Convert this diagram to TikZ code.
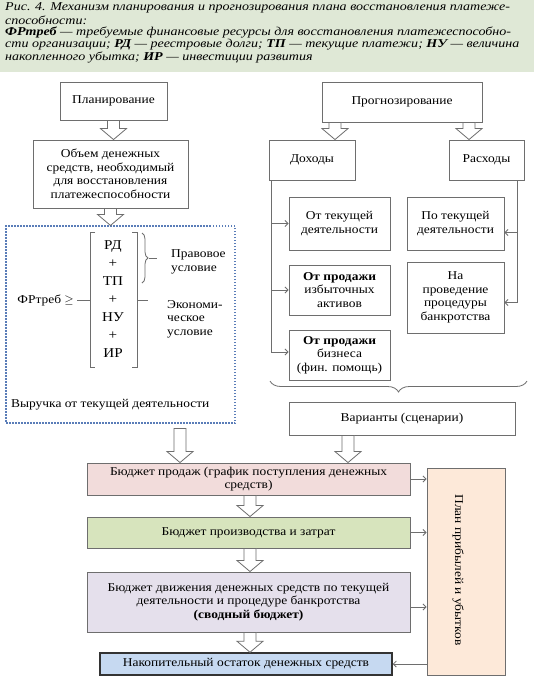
\documentclass[tikz,border=0pt]{standalone}
\usepackage{fontspec}
\setmainfont{Liberation Serif}[FakeStretch=1.12]
\newfontfamily\capfont{Liberation Serif}[FakeStretch=1.17]
\usetikzlibrary{arrows.meta,calc,decorations.pathreplacing}
\definecolor{capbg}{HTML}{DFE8D6}
\definecolor{boxc}{HTML}{6E6E6E}
\definecolor{dashc}{HTML}{5A7DB8}
\definecolor{pinkc}{HTML}{F2DCDB}
\definecolor{greenc}{HTML}{D7E4BD}
\definecolor{lavc}{HTML}{E5E0EC}
\definecolor{bluec}{HTML}{C6D9F1}
\definecolor{peachc}{HTML}{FDE9D9}
\newcommand\fsz[2]{\fontsize{#1pt}{#2pt}\selectfont}
\newcommand\harrow[2]{\draw[harrowstyle] let \p1=#1, \p2=#2 in
  (\x1-6pt,\y1) -- (\x1-6pt,\y2+11pt) -- (\x1-13pt,\y2+11pt) -- (\x1,\y2)
  -- (\x1+13pt,\y2+11pt) -- (\x1+6pt,\y2+11pt) -- (\x1+6pt,\y1) -- cycle;}
\tikzset{
  box/.style={draw=boxc, line width=0.9pt, fill=white, align=center, inner sep=2pt, font=\fsz{12}{13.5}},
  caption/.style={anchor=west, inner sep=0pt, font=\capfont\fsz{12}{12}\itshape},
  conn/.style={draw=boxc, line width=0.8pt, -{Straight Barb[length=3pt,width=6pt]}},
  harrowstyle/.style={draw=boxc, line width=0.8pt, fill=white},
  plain/.style={inner sep=0pt, font=\fsz{12}{13.5}},
}
\begin{document}
\begin{tikzpicture}[x=1pt,y=-1pt]
\useasboundingbox (0,0) rectangle (534,681);
\fill[white] (0,0) rectangle (534,681);
\fill[capbg] (0,0) rectangle (534,72);
% caption
\node[caption] (c1) at (5,8) {Рис. 4. Механизм планирования и прогнозирования плана восстановления платеже-};
\node[caption] (c2) at (5,20) {способности:};
\node[caption] (c3) at (5,32) {\textbf{ФРтреб} — требуемые финансовые ресурсы для восстановления платежеспособно-};
\node[caption] (c4) at (5,45) {сти организации; \textbf{РД} — реестровые долги; \textbf{ТП} — текущие платежи; \textbf{НУ} — величина};
\node[caption] (c5) at (5,57) {накопленного убытка; \textbf{ИР} — инвестиции развития};

% left part
\node[box, minimum width=107pt, minimum height=38pt] (plan) at (113.5,101) {Планирование};
\node[box, minimum width=155pt, minimum height=68pt] (obem) at (110.5,174) {Объем денежных\\средств, необходимый\\для восстановления\\платежеспособности};
\node[draw=dashc, line width=1.1pt, dash pattern=on 1.5pt off 1.5pt, minimum width=229pt, minimum height=197pt, inner sep=0pt] (dash) at (120.5,324.5) {};

\node[plain, anchor=east] (fr) at (74,300) {ФРтреб $\geq$};
\node[plain, align=center, font=\fsz{13.5}{18}] (terms) at (113,299) {РД\\+\\ТП\\+\\НУ\\+\\ИР};
\draw[boxc, line width=0.8pt] (95,232) -- (90,232) -- (90,367) -- (95,367);
\draw[boxc, line width=0.8pt] (132,232) -- (137,232) -- (137,367) -- (132,367);
\draw[boxc, line width=0.8pt] (77,300) -- (90,300);
\draw[boxc, line width=0.8pt] (137,300) -- (148,300);
\draw[boxc, line width=0.8pt, decorate, decoration={brace, amplitude=6pt}] (142,233) -- (142,283);
\draw[boxc, line width=0.8pt] (149,258) -- (157,258);
\node[plain, anchor=west, align=left] (prav) at (171,262) {Правовое\\условие};
\node[plain, anchor=west, align=left] (econ) at (167,319) {Экономи-\\ческое\\условие};
\node[plain, anchor=west] (vyr) at (11,405) {Выручка от текущей деятельности};

% right part
\node[box, minimum width=160pt, minimum height=40pt] (prog) at (402,102) {Прогнозирование};
\node[box, minimum width=86pt, minimum height=40pt] (doh) at (312,160) {Доходы};
\node[box, minimum width=75pt, minimum height=40pt] (rash) at (486.5,160) {Расходы};
\node[box, minimum width=101pt, minimum height=53pt] (ot1) at (339.5,223.5) {От текущей\\деятельности};
\node[box, minimum width=101pt, minimum height=50pt] (ot2) at (339.5,290) {\textbf{От продажи}\\избыточных\\активов};
\node[box, minimum width=101pt, minimum height=50pt] (ot3) at (339.5,355) {\textbf{От продажи}\\бизнеса\\(фин. помощь)};
\node[box, minimum width=97pt, minimum height=53pt] (po1) at (455.5,223.5) {По текущей\\деятельности};
\node[box, minimum width=97pt, minimum height=71pt] (po2) at (455.5,297.5) {На\\проведение\\процедуры\\банкротства};
\node[box, minimum width=226pt, minimum height=33pt] (var) at (402,418.5) {Варианты (сценарии)};

\draw[conn] ([xshift=3pt]doh.south west) |- (ot1.west);
\draw[conn] ([xshift=3pt]doh.south west) |- (ot2.west);
\draw[conn] ([xshift=3pt]doh.south west) |- ([yshift=3pt]ot3.west);
\draw[conn] ([xshift=-7pt]rash.south east) |- ([yshift=-9pt]po1.east);
\draw[conn] ([xshift=-7pt]rash.south east) |- ([yshift=-5pt]po2.east);
\draw[boxc, line width=0.8pt, decorate, decoration={brace, amplitude=11pt}] (527,381) -- (270,381);

% bottom
\node[box, fill=pinkc, minimum width=323pt, minimum height=32pt] (b1) at (248.5,479) {Бюджет продаж (график поступления денежных\\средств)};
\node[box, fill=greenc, minimum width=323pt, minimum height=31pt] (b2) at (248.5,532.5) {Бюджет производства и затрат};
\node[box, fill=lavc, minimum width=323pt, minimum height=60pt] (b3) at (248.5,602) {Бюджет движения денежных средств по текущей\\деятельности и процедуре банкротства\\\textbf{(сводный бюджет)}};
\node[box, fill=bluec, draw=black!80, line width=1.5pt, minimum width=292pt, minimum height=22pt] (b4) at (246,664) {Накопительный остаток денежных средств};
\node[box, fill=peachc, minimum width=78pt, minimum height=207pt] (pnl) at (466,571.5) {};
\node[plain, rotate=-90] (pnlt) at (458,570) {План прибылей и убытков};

\coordinate (b3e) at ([yshift=-5pt]b3.east);
\draw[conn] (b1.east) -- (pnl.west |- b1.east);
\draw[conn] (b2.east) -- (pnl.west |- b2.east);
\draw[conn] (b3e) -- (pnl.west |- b3e);
\draw[conn] (pnl.west |- b4.east) -- (b4.east);

% hollow arrows
\harrow{(plan.south)}{(obem.north)}
\harrow{(obem.south)}{(dash.north)}
\harrow{([xshift=-67pt]prog.south)}{([xshift=-67pt]prog.south |- doh.north)}
\harrow{([xshift=67pt]prog.south)}{([xshift=67pt]prog.south |- rash.north)}
\harrow{([xshift=59.5pt,yshift=-5pt]dash.south)}{([xshift=59.5pt]dash.south |- b1.north)}
\harrow{([xshift=-54pt]var.south)}{([xshift=-54pt]var.south |- b1.north)}
\harrow{([xshift=1.5pt]b1.south)}{([xshift=1.5pt]b2.north)}
\harrow{([xshift=1.5pt]b2.south)}{([xshift=1.5pt]b3.north)}
\harrow{([xshift=1.5pt]b3.south)}{([xshift=1.5pt]b3.south |- b4.north)}
\end{tikzpicture}
\end{document}
